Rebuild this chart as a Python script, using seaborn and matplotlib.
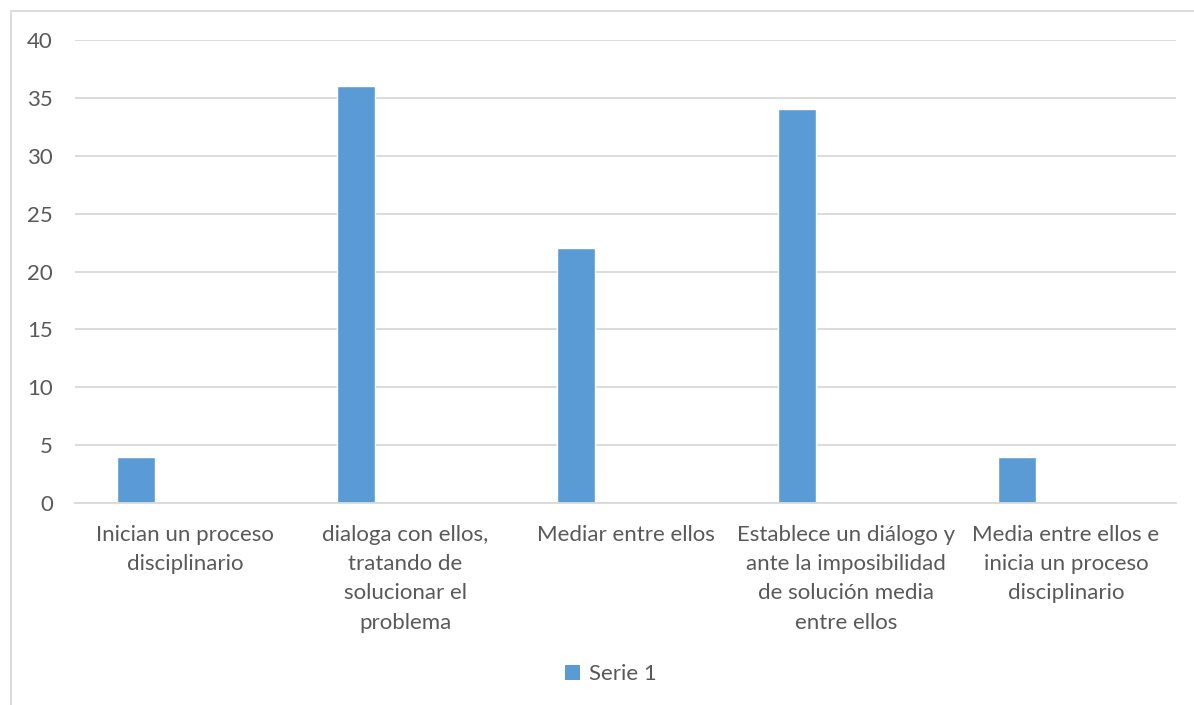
import matplotlib
matplotlib.use("Agg")
import matplotlib.pyplot as plt
from matplotlib.lines import Line2D
from matplotlib.patches import Patch
import pandas as pd
import seaborn as sns

categories = [
    "Inician un proceso\ndisciplinario",
    "dialoga con ellos,\ntratando de\nsolucionar el\nproblema",
    "Mediar entre ellos",
    "Establece un diálogo y\nante la imposibilidad\nde solución media\nentre ellos",
    "Media entre ellos e\ninicia un proceso\ndisciplinario",
]
serie1 = [4, 36, 22, 34, 4]
series_order = ["Serie 1", "Serie 2", "Serie 3"]
y_ticks = [0, 5, 10, 15, 20, 25, 30, 35, 40]

BAR = "#5B9BD5"
TEXT = "#595959"
GRID = "#D9D9D9"
FS = 16

sns.set_theme(style="white")
plt.rcParams["font.family"] = ["Lato", "DejaVu Sans"]

df = pd.DataFrame({"categoria": categories, "valor": serie1, "serie": "Serie 1"})

fig = plt.figure(figsize=(11.94, 7.05), dpi=100)
ax = fig.add_axes([75 / 1194, 1 - 503 / 705, 1101 / 1194, 463 / 705])

sns.barplot(
    data=df, x="categoria", y="valor", hue="serie",
    order=categories, hue_order=series_order,
    palette={"Serie 1": BAR, "Serie 2": "#ED7D31", "Serie 3": "#A5A5A5"},
    width=0.668, gap=0.224, dodge=True, errorbar=None, legend=False,
    saturation=1, ax=ax,
)

ax.set_ylim(0, 40)
ax.set_yticks(y_ticks)
ax.set_xlim(-0.5, len(categories) - 0.5)
ax.yaxis.grid(True, color=GRID, linewidth=1.3)
ax.set_axisbelow(True)
for side in ["top", "right", "left"]:
    ax.spines[side].set_visible(False)
ax.spines["bottom"].set_color(GRID)
ax.spines["bottom"].set_linewidth(1.3)
ax.set_xlabel("")
ax.set_ylabel("")
ax.tick_params(axis="y", length=0, pad=16, labelsize=FS, labelcolor=TEXT)
ax.tick_params(axis="x", length=0, pad=16, labelsize=FS, labelcolor=TEXT)
for lbl in ax.get_xticklabels():
    lbl.set_linespacing(1.57)
    lbl.set_verticalalignment("top")

ax.legend(
    handles=[Patch(facecolor=BAR, edgecolor="none", label="Serie 1")],
    loc="center", bbox_to_anchor=(611 / 1194, 1 - 674 / 705),
    bbox_transform=fig.transFigure, frameon=False, fontsize=FS,
    labelcolor=TEXT, handlelength=0.65, handleheight=0.65, handletextpad=0.4,
)

# chart area border (left and top edges)
fig.add_artist(Line2D([11 / 1194, 11 / 1194], [0, 1 - 11 / 705], color=GRID, linewidth=1.3))
fig.add_artist(Line2D([11 / 1194, 1], [1 - 11 / 705, 1 - 11 / 705], color=GRID, linewidth=1.3))

fig.savefig("out.png", dpi=100)
